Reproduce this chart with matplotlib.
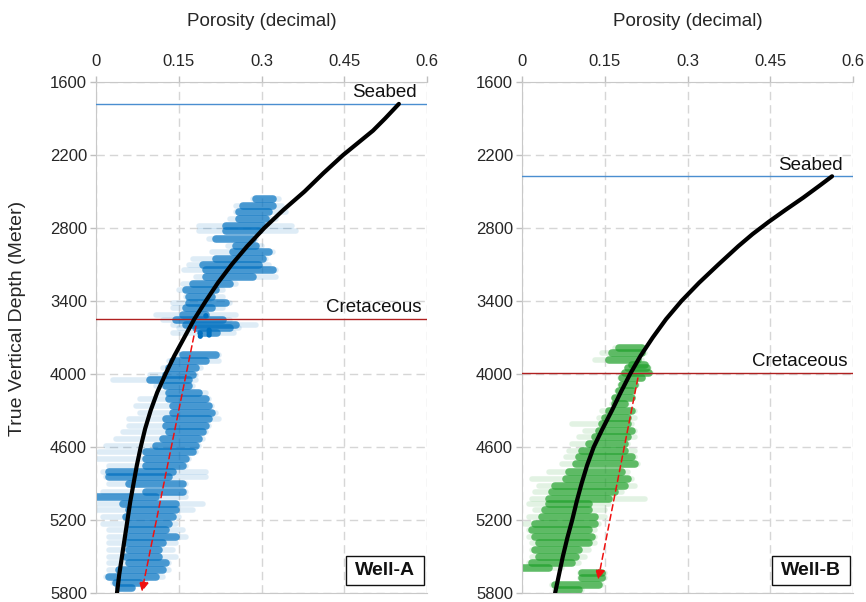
import matplotlib
matplotlib.use('Agg')
import matplotlib.pyplot as plt
from matplotlib.patches import Rectangle
import matplotlib.transforms as mtransforms

plt.rcParams['font.family'] = ['Liberation Sans', 'DejaVu Sans']

# ---- Well-A porosity log, summarised as depth slices (m) with dense core and scatter spread ----
a_depth = [2563, 2618, 2672, 2727, 2781, 2822, 2890, 2944, 2998, 3053, 3107, 3148, 3202, 3257,
           3311, 3366, 3420, 3461, 3515, 3556, 3597, 3624, 3660, 3842, 3896, 3951, 4005, 4046,
           4100, 4155, 4209, 4264, 4318, 4373, 4427, 4481, 4536, 4590, 4645, 4699, 4753, 4808,
           4849, 4903, 4971, 5012, 5066, 5121, 5175, 5230, 5284, 5339, 5393, 5447, 5502, 5556,
           5611, 5665, 5719, 5760]
a_core_lo = [0.290, 0.266, 0.260, 0.260, 0.236, 0.236, 0.217, 0.254, 0.248, 0.217, 0.193, 0.199, 0.199, 0.175,
             0.163, 0.169, 0.169, 0.163, 0.157, 0.145, 0.163, 0.181, 0.190, 0.157, 0.139, 0.133, 0.127, 0.097,
             0.127, 0.133, 0.133, 0.139, 0.139, 0.127, 0.127, 0.133, 0.121, 0.109, 0.091, 0.091, 0.091, 0.024,
             0.024, 0.060, 0.091, 0.000, 0.048, 0.060, 0.054, 0.060, 0.060, 0.060, 0.054, 0.060, 0.054, 0.060,
             0.042, 0.024, 0.036, 0.042]
a_core_hi = [0.320, 0.320, 0.314, 0.308, 0.302, 0.296, 0.284, 0.290, 0.314, 0.302, 0.296, 0.320, 0.284, 0.242,
             0.217, 0.211, 0.236, 0.211, 0.199, 0.230, 0.254, 0.242, 0.220, 0.217, 0.199, 0.181, 0.175, 0.169,
             0.169, 0.187, 0.199, 0.205, 0.211, 0.205, 0.199, 0.193, 0.187, 0.181, 0.175, 0.163, 0.157, 0.139,
             0.133, 0.157, 0.157, 0.109, 0.145, 0.145, 0.139, 0.133, 0.127, 0.145, 0.121, 0.115, 0.115, 0.127,
             0.121, 0.109, 0.079, 0.066]
a_sprd_lo = [0.284, 0.254, 0.254, 0.242, 0.187, 0.187, 0.205, 0.240, 0.211, 0.175, 0.169, 0.160, 0.181, 0.157,
             0.151, 0.163, 0.139, 0.139, 0.109, 0.121, 0.139, 0.150, 0.140, 0.151, 0.133, 0.121, 0.097, 0.030,
             0.109, 0.115, 0.079, 0.072, 0.079, 0.060, 0.060, 0.048, 0.036, 0.018, 0.006, 0.000, 0.024, 0.012,
             0.018, 0.024, 0.012, 0.000, 0.000, 0.000, 0.012, 0.012, 0.024, 0.024, 0.024, 0.024, 0.024, 0.024,
             0.024, 0.018, 0.030, 0.042]
a_sprd_hi = [0.332, 0.338, 0.344, 0.326, 0.356, 0.362, 0.290, 0.300, 0.320, 0.308, 0.314, 0.326, 0.326, 0.254,
             0.230, 0.230, 0.242, 0.230, 0.254, 0.242, 0.290, 0.260, 0.250, 0.223, 0.223, 0.190, 0.181, 0.181,
             0.175, 0.200, 0.205, 0.211, 0.217, 0.223, 0.205, 0.199, 0.193, 0.187, 0.181, 0.169, 0.163, 0.200,
             0.200, 0.163, 0.163, 0.163, 0.193, 0.175, 0.151, 0.145, 0.157, 0.163, 0.145, 0.139, 0.145, 0.133,
             0.133, 0.121, 0.090, 0.066]
# tight clusters just under the Cretaceous top
a_dot_depth = [3521, 3640, 3660, 3680, 3665, 3690]
a_dot_por = [0.199, 0.205, 0.205, 0.205, 0.189, 0.189]

# ---- Well-B ----
b_depth = [3788, 3828, 3883, 3924, 3951, 3992, 4033, 4087, 4141, 4196, 4250, 4305, 4359, 4413,
           4468, 4522, 4577, 4631, 4686, 4740, 4808, 4863, 4917, 4971, 5026, 5067, 5121, 5175,
           5230, 5284, 5339, 5393, 5447, 5502, 5556, 5597, 5638, 5679, 5733, 5774]
b_core_lo = [0.175, 0.163, 0.157, 0.199, 0.193, 0.187, 0.181, 0.181, 0.175, 0.169, 0.169, 0.157, 0.151, 0.145,
             0.139, 0.133, 0.121, 0.109, 0.103, 0.097, 0.085, 0.079, 0.060, 0.054, 0.048, 0.048, 0.042, 0.036,
             0.024, 0.018, 0.024, 0.030, 0.024, 0.030, 0.018, 0.000, 0.109, 0.109, 0.060, 0.066]
b_core_hi = [0.217, 0.217, 0.211, 0.223, 0.227, 0.230, 0.217, 0.205, 0.199, 0.199, 0.187, 0.199, 0.193, 0.193,
             0.199, 0.193, 0.187, 0.187, 0.199, 0.205, 0.181, 0.193, 0.187, 0.169, 0.157, 0.121, 0.121, 0.133,
             0.133, 0.121, 0.127, 0.121, 0.103, 0.097, 0.091, 0.048, 0.145, 0.145, 0.140, 0.103]
b_sprd_lo = [0.169, 0.145, 0.133, 0.195, 0.190, 0.183, 0.178, 0.178, 0.172, 0.166, 0.163, 0.145, 0.139, 0.091,
             0.115, 0.103, 0.091, 0.085, 0.079, 0.072, 0.048, 0.018, 0.030, 0.024, 0.018, 0.012, 0.024, 0.012,
             0.006, 0.012, 0.012, 0.018, 0.018, 0.018, 0.012, 0.000, 0.105, 0.105, 0.055, 0.060]
b_sprd_hi = [0.223, 0.223, 0.217, 0.226, 0.230, 0.233, 0.220, 0.208, 0.202, 0.202, 0.190, 0.205, 0.205, 0.199,
             0.205, 0.205, 0.193, 0.205, 0.205, 0.211, 0.193, 0.199, 0.205, 0.181, 0.223, 0.157, 0.151, 0.151,
             0.139, 0.133, 0.133, 0.133, 0.121, 0.115, 0.103, 0.072, 0.150, 0.150, 0.145, 0.108]

# ---- normal compaction trends ----
a_trend_depth = [1780, 1900, 2000, 2100, 2200, 2350, 2500, 2650, 2800, 2950, 3100, 3250, 3400, 3550, 3700,
                 3850, 4000, 4150, 4300, 4450, 4600, 4750, 4900, 5050, 5200, 5350, 5500, 5650, 5800]
a_trend_por = [0.549, 0.524, 0.502, 0.475, 0.448, 0.412, 0.378, 0.340, 0.305, 0.274, 0.246, 0.221, 0.199, 0.178,
               0.160, 0.142, 0.126, 0.111, 0.099, 0.089, 0.081, 0.074, 0.068, 0.062, 0.057, 0.052, 0.047, 0.042, 0.038]
b_trend_depth = [2375, 2450, 2550, 2650, 2750, 2850, 2950, 3100, 3250, 3400, 3550, 3700, 3850, 4000,
                 4150, 4300, 4450, 4600, 4750, 4900, 5050, 5200, 5350, 5500, 5650, 5800]
b_trend_por = [0.562, 0.540, 0.510, 0.478, 0.447, 0.418, 0.392, 0.356, 0.321, 0.289, 0.261, 0.237, 0.215, 0.196,
               0.179, 0.163, 0.146, 0.130, 0.118, 0.108, 0.099, 0.091, 0.082, 0.074, 0.067, 0.060]

# ---- formation tops (m) ----
a_seabed, a_cretaceous = 1780, 3550
b_seabed, b_cretaceous = 2375, 3990

# ---- porosity shift arrows (porosity, depth) ----
a_arrow_from, a_arrow_to = (0.181, 3608), (0.083, 5790)
b_arrow_from, b_arrow_to = (0.210, 4033), (0.138, 5690)

xticks = [0, 0.15, 0.3, 0.45, 0.6]
xtick_labels = ['0', '0.15', '0.3', '0.45', '0.6']
yticks = [1600, 2200, 2800, 3400, 4000, 4600, 5200, 5800]

BLUE = '#0070C0'
GREEN = '#1FA02A'
TOP_BLUE = '#4A8ED0'
TOP_RED = '#B02020'
TEXT = '#262626'


def style_axis(ax):
    ax.set_xlim(0, 0.6)
    ax.set_ylim(5800, 1600)
    ax.xaxis.tick_top()
    ax.xaxis.set_label_position('top')
    ax.set_xticks(xticks)
    ax.set_xticklabels(xtick_labels)
    ax.set_yticks(yticks)
    ax.tick_params(axis='both', labelsize=12, colors='#BFBFBF', labelcolor=TEXT, length=4.5, width=1)
    ax.tick_params(axis='x', pad=5)
    ax.tick_params(axis='y', pad=2)
    ax.grid(True, color='#D6D6D6', lw=1, ls=(0, (6, 3.6)))
    ax.set_axisbelow(True)
    for side in ['left', 'top', 'bottom']:
        ax.spines[side].set_color('#C8C8C8')
    ax.spines['right'].set_visible(False)
    ax.set_xlabel('Porosity (decimal)', fontsize=13.5, color=TEXT, labelpad=20)


def draw_well(ax, depth, core_lo, core_hi, sprd_lo, sprd_hi, color):
    # faint outer scatter, then the dense core of each depth slice
    ax.hlines(depth, sprd_lo, sprd_hi, color=color, alpha=0.13, lw=4, capstyle='round', zorder=2)
    ax.hlines(depth, core_lo, core_hi, color=color, alpha=0.68, lw=5.5, capstyle='round', zorder=2)


def draw_tops(ax, seabed, cretaceous):
    trans = mtransforms.blended_transform_factory(ax.transAxes, ax.transData)
    ax.axhline(seabed, color=TOP_BLUE, lw=1, zorder=3)
    ax.axhline(cretaceous, color=TOP_RED, lw=1, zorder=3)
    ax.annotate('Seabed', (0.97, seabed), xycoords=trans, xytext=(0, 2), textcoords='offset points',
                ha='right', va='bottom', fontsize=13.5, color='#111111')
    ax.annotate('Cretaceous', (0.983, cretaceous), xycoords=trans, xytext=(0, 2), textcoords='offset points',
                ha='right', va='bottom', fontsize=13.5, color='#111111')


def draw_arrow(ax, start, end):
    ax.annotate('', xy=end, xytext=start,
                arrowprops=dict(arrowstyle='-|>', color='#F01010', lw=1.1, ls=(0, (4, 2.5)),
                                mutation_scale=14, shrinkA=0, shrinkB=0), zorder=5)


def well_tag(ax, name):
    ax.add_patch(Rectangle((0.755, 0.0156), 0.237, 0.0564, transform=ax.transAxes,
                           facecolor='white', edgecolor='#111111', lw=1, zorder=6))
    ax.text(0.8735, 0.0438, name, transform=ax.transAxes, ha='center', va='center',
            fontsize=14, fontweight='bold', color='#111111', zorder=7)


fig = plt.figure(figsize=(8.66, 6.02), dpi=100)
ax_a = fig.add_axes([0.1109, 0.0150, 0.3822, 0.8488])
ax_b = fig.add_axes([0.6028, 0.0150, 0.3822, 0.8488])

for ax in (ax_a, ax_b):
    style_axis(ax)

# Well-A
draw_well(ax_a, a_depth, a_core_lo, a_core_hi, a_sprd_lo, a_sprd_hi, BLUE)
ax_a.scatter(a_dot_por, a_dot_depth, s=14, color=BLUE, edgecolors='none', zorder=3)
draw_tops(ax_a, a_seabed, a_cretaceous)
ax_a.plot(a_trend_por, a_trend_depth, color='black', lw=3, solid_capstyle='round', zorder=4)
draw_arrow(ax_a, a_arrow_from, a_arrow_to)
well_tag(ax_a, 'Well-A')

# Well-B
draw_well(ax_b, b_depth, b_core_lo, b_core_hi, b_sprd_lo, b_sprd_hi, GREEN)
draw_tops(ax_b, b_seabed, b_cretaceous)
ax_b.plot(b_trend_por, b_trend_depth, color='black', lw=3, solid_capstyle='round', zorder=4)
draw_arrow(ax_b, b_arrow_from, b_arrow_to)
well_tag(ax_b, 'Well-B')

fig.text(18 / 866, 1 - 318 / 602, 'True Vertical Depth (Meter)', rotation=90,
         ha='center', va='center', fontsize=14, color=TEXT)

fig.savefig('out.png', dpi=100)
